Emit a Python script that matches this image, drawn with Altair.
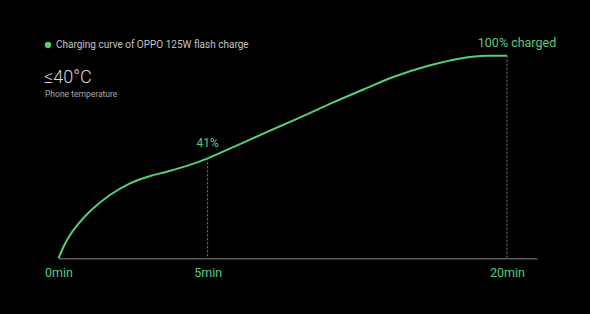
import altair as alt
import pandas as pd

# Curve (minutes, percent charged)
minutes = [0, 0.07, 0.20, 0.44, 0.80, 1.31, 1.98, 2.71, 3.34, 4.14, 5.0,
           6.10, 7.63, 9.18, 10.79, 12.30, 13.84, 15.64, 17.42, 18.91, 20.0]
percent = [0, 2.7, 6.5, 11.5, 17.1, 23.0, 28.5, 32.1, 34.2, 37.1, 41.0,
           46.9, 55.1, 63.2, 71.8, 79.4, 86.9, 93.6, 98.3, 99.9, 100.0]

mark_minutes = [5, 20]
mark_percent = [41, 100]
mark_labels = ["41%", "100% charged"]
tick_values = [0, 5, 20]

GREEN = "#52cf7a"
TEXT_GREEN = "#5cc97f"
FONT = "Roboto"

# plot area placement
LEFT, TOP, W, H = 58.5, 55.7, 478.5, 202.6

curve = pd.DataFrame({"min": minutes, "pct": percent})
marks = pd.DataFrame({"min": mark_minutes, "pct": mark_percent, "label": mark_labels, "base": [0, 0]})


def X():
    return alt.X("min:Q",
                 scale=alt.Scale(type="pow", exponent=0.794, domain=[0, 21.7], nice=False, zero=False),
                 axis=alt.Axis(values=tick_values, labelExpr="datum.value + 'min'", title=None,
                               grid=False, ticks=False, domainColor="#5a5a5a", domainWidth=1.5,
                               labelColor=TEXT_GREEN, labelFontSize=12.5, labelPadding=8,
                               labelFlush=False, labelFont=FONT))


def Y():
    return alt.Y("pct:Q",
                 scale=alt.Scale(type="pow", exponent=0.792, domain=[0, 100], nice=False, zero=False),
                 axis=None)


line = alt.Chart(curve).mark_line(color=GREEN, strokeWidth=2, interpolate="monotone").encode(
    x=X(), y=Y())

rules = alt.Chart(marks).mark_rule(color="#8a8a8a", strokeDash=[2, 2], strokeWidth=1).encode(
    x=X(), y=Y(), y2=alt.Y2("base:Q"))

label41 = alt.Chart(marks).transform_filter("datum.min == 5").mark_text(
    color=TEXT_GREEN, fontSize=12, font=FONT, dy=-15, align="center"
).encode(x=X(), y=Y(), text=alt.Text("label:N"))

label100 = alt.Chart(marks).transform_filter("datum.min == 20").mark_text(
    color=TEXT_GREEN, fontSize=12.5, font=FONT, dy=-13, dx=10, align="center"
).encode(x=X(), y=Y(), text=alt.Text("label:N"))

header = pd.DataFrame({"t": ["Charging curve of OPPO 125W flash charge"]})
dot = alt.Chart(header).mark_circle(color=GREEN, size=40, opacity=1).encode(
    x=alt.value(48 - LEFT), y=alt.value(45 - TOP))
htext = alt.Chart(header).mark_text(align="left", baseline="middle", color="#c4c4c4",
                                    fontSize=10, font=FONT).encode(
    x=alt.value(56 - LEFT), y=alt.value(45 - TOP), text=alt.Text("t:N"))

temp = pd.DataFrame({"t": ["≤40°C"]})
ttext = alt.Chart(temp).mark_text(align="left", baseline="middle", color="#d8d8d8",
                                  fontSize=18, font=FONT, fontWeight=300).encode(
    x=alt.value(44 - LEFT), y=alt.value(78 - TOP), text=alt.Text("t:N"))
sub = pd.DataFrame({"t": ["Phone temperature"]})
stext = alt.Chart(sub).mark_text(align="left", baseline="middle", color="#a8a8a8",
                                 fontSize=8.5, font=FONT).encode(
    x=alt.value(45 - LEFT), y=alt.value(94 - TOP), text=alt.Text("t:N"))

chart = alt.layer(line, rules, label41, label100, dot, htext, ttext, stext).properties(
    width=W, height=H, background="#000000",
    padding={"left": LEFT, "top": TOP, "right": 590 - LEFT - W, "bottom": 314 - TOP - H},
    autosize=alt.AutoSizeParams(type="none"),
).configure_view(strokeWidth=0)

chart.save("out.html", embed_options={"renderer": "svg", "actions": False})
